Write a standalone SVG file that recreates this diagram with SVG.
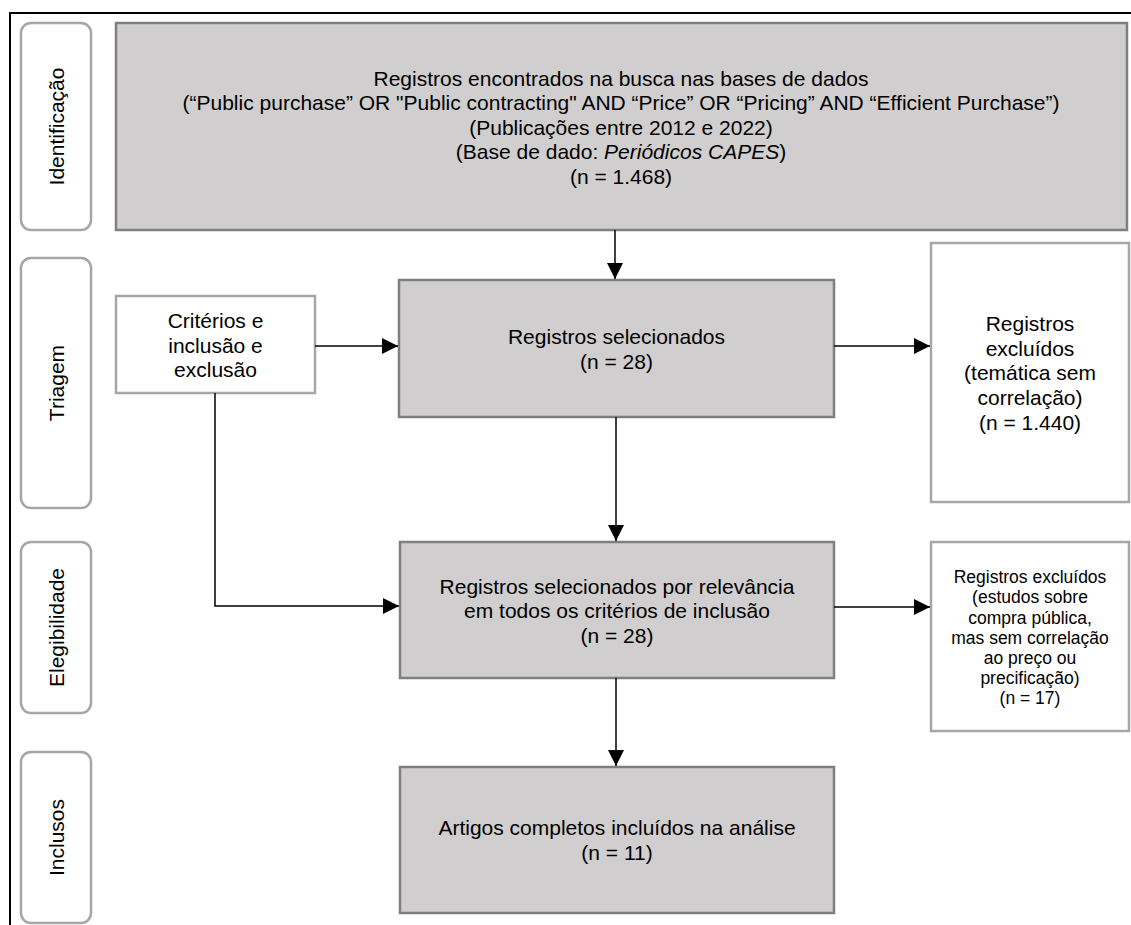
<svg xmlns="http://www.w3.org/2000/svg" width="1131" height="925" viewBox="0 0 1131 925">
<style>
.t{font-family:"Liberation Sans",Arial,sans-serif;font-size:21px;fill:#000;text-anchor:middle}
.s{font-size:17.5px}
.phase{fill:#fff;stroke:#a6a6a6;stroke-width:2.5}
.gray{fill:#d0cece;stroke:#7f7f7f;stroke-width:2.5}
.white{fill:#fff;stroke:#a6a6a6;stroke-width:2.5}
.c{fill:none;stroke:#000;stroke-width:1.5}
</style>
<defs>
<marker id="ah" markerWidth="16" markerHeight="16" viewBox="0 0 16 16" refX="16" refY="8" orient="auto" markerUnits="userSpaceOnUse">
<path d="M0,0 L16,8 L0,16 Z" fill="#000"/>
</marker>
</defs>
<rect width="1131" height="925" fill="#fff"/>
<g id="frame">
<line x1="9" y1="13" x2="1131" y2="13" stroke="#000" stroke-width="2"/>
<line x1="10" y1="12" x2="10" y2="925" stroke="#000" stroke-width="2"/>
</g>
<g id="phase-identificacao">
<rect class="phase" x="21" y="23" width="70" height="207" rx="10"/>
<text class="t" transform="translate(64,126.5) rotate(-90)">Identificação</text>
</g>
<g id="phase-triagem">
<rect class="phase" x="21" y="258" width="70" height="250" rx="10"/>
<text class="t" transform="translate(64,383) rotate(-90)">Triagem</text>
</g>
<g id="phase-elegibilidade">
<rect class="phase" x="21" y="542" width="70" height="171" rx="10"/>
<text class="t" transform="translate(64,627.5) rotate(-90)">Elegibilidade</text>
</g>
<g id="phase-inclusos">
<rect class="phase" x="21" y="752" width="70" height="171" rx="10"/>
<text class="t" transform="translate(64,837.5) rotate(-90)">Inclusos</text>
</g>
<g id="identificados">
<rect class="gray" x="116" y="23" width="1011" height="207"/>
<text class="t" x="621" y="85.5">Registros encontrados na busca nas bases de dados</text>
<text class="t" x="621" y="110">(“Public purchase” OR "Public contracting" AND “Price” OR “Pricing” AND “Efficient Purchase”)</text>
<text class="t" x="621" y="134.5">(Publicações entre 2012 e 2022)</text>
<text class="t" x="621" y="159">(Base de dado: <tspan font-style="italic">Periódicos CAPES</tspan>)</text>
<text class="t" x="621" y="183.5">(n = 1.468)</text>
</g>
<g id="criterios">
<rect class="white" x="116" y="296" width="199" height="97"/>
<text class="t" x="215.5" y="328">Critérios e</text>
<text class="t" x="215.5" y="353">inclusão e</text>
<text class="t" x="215.5" y="377">exclusão</text>
</g>
<g id="selecionados">
<rect class="gray" x="399" y="280" width="435" height="137"/>
<text class="t" x="616.5" y="344">Registros selecionados</text>
<text class="t" x="616.5" y="369">(n = 28)</text>
</g>
<g id="excluidos-1">
<rect class="white" x="931" y="243" width="198" height="259"/>
<text class="t" x="1030" y="331">Registros</text>
<text class="t" x="1030" y="356">excluídos</text>
<text class="t" x="1030" y="380">(temática sem</text>
<text class="t" x="1030" y="405">correlação)</text>
<text class="t" x="1030" y="430">(n = 1.440)</text>
</g>
<g id="elegiveis">
<rect class="gray" x="400" y="542" width="434" height="136"/>
<text class="t" x="617" y="594">Registros selecionados por relevância</text>
<text class="t" x="617" y="618">em todos os critérios de inclusão</text>
<text class="t" x="617" y="643">(n = 28)</text>
</g>
<g id="excluidos-2">
<rect class="white" x="931" y="542" width="198" height="189"/>
<text class="t s" x="1030" y="583">Registros excluídos</text>
<text class="t s" x="1030" y="603">(estudos sobre</text>
<text class="t s" x="1030" y="624">compra pública,</text>
<text class="t s" x="1030" y="644">mas sem correlação</text>
<text class="t s" x="1030" y="664">ao preço ou</text>
<text class="t s" x="1030" y="684">precificação)</text>
<text class="t s" x="1030" y="704">(n = 17)</text>
</g>
<g id="inclusos">
<rect class="gray" x="400" y="767" width="434" height="146"/>
<text class="t" x="617" y="835">Artigos completos incluídos na análise</text>
<text class="t" x="617" y="860">(n = 11)</text>
</g>
<g id="connectors">
<line class="c" x1="615" y1="230" x2="615" y2="279" marker-end="url(#ah)"/>
<line class="c" x1="315" y1="346" x2="398" y2="346" marker-end="url(#ah)"/>
<line class="c" x1="834" y1="346" x2="930" y2="346" marker-end="url(#ah)"/>
<line class="c" x1="616" y1="417" x2="616" y2="541" marker-end="url(#ah)"/>
<polyline class="c" points="215,393 215,606 399,606" marker-end="url(#ah)"/>
<line class="c" x1="834" y1="607" x2="930" y2="607" marker-end="url(#ah)"/>
<line class="c" x1="616" y1="678" x2="616" y2="766" marker-end="url(#ah)"/>
</g>
</svg>
